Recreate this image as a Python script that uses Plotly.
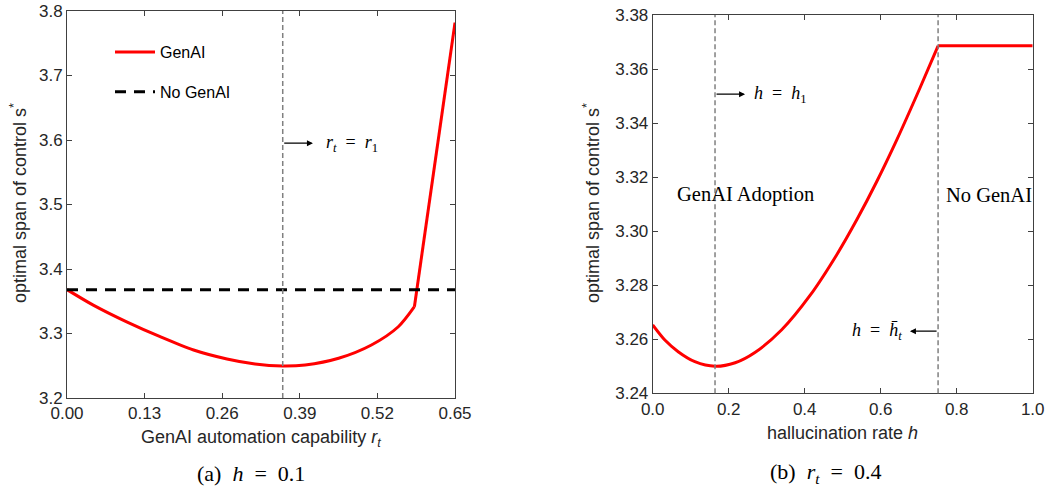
import plotly.graph_objects as go

# ---------------- data ----------------
# panel (a): h = 0.1  -- GenAI curve (smooth part up to the kink, then the steep linear part)
r_curve = [0.0, 0.044, 0.100, 0.156, 0.212, 0.268, 0.315, 0.361, 0.399, 0.455, 0.510, 0.555, 0.582]
s_curve_a = [3.368, 3.344, 3.318, 3.295, 3.2744, 3.2605, 3.2527, 3.2496, 3.2512, 3.2616, 3.2822, 3.3105, 3.3416]
r_steep = [0.582, 0.65]
s_steep = [3.3416, 3.782]
r_nogenai = [0.0, 0.65]
s_nogenai = [3.368, 3.368]
r1 = 0.3614

# panel (b): r_t = 0.4
h_curve = [0.0, 0.032, 0.067, 0.111, 0.164, 0.217, 0.269, 0.3395, 0.414, 0.484, 0.537, 0.589, 0.642, 0.703, 0.751]
s_curve_b = [3.2653, 3.2597, 3.2554, 3.2517, 3.2500, 3.2513, 3.2551, 3.2635, 3.2762, 3.2912, 3.3042, 3.3182, 3.3337, 3.3529, 3.3686]
h_flat = [0.751, 1.0]
s_flat = [3.3686, 3.3686]
h1 = 0.164
h_bar = 0.751

x_ticks_a = [0.00, 0.13, 0.26, 0.39, 0.52, 0.65]
y_ticks_a = [3.2, 3.3, 3.4, 3.5, 3.6, 3.7, 3.8]
x_ticks_b = [0.0, 0.2, 0.4, 0.6, 0.8, 1.0]
y_ticks_b = [3.24, 3.26, 3.28, 3.30, 3.32, 3.34, 3.36, 3.38]

# ---------------- figure ----------------
W, H = 1047, 493
AX = "#404040"
TXT = "#262626"
RED = "#ff0000"
SANS = "Liberation Sans, Arial, sans-serif"
SERIF = "Liberation Serif, Times New Roman, serif"

def px_x(p):
    return p / W

def px_y(p):
    return 1 - p / H

fig = go.Figure()

fig.add_trace(go.Scatter(x=r_curve, y=s_curve_a, mode="lines", name="GenAI",
                         line=dict(color=RED, width=3, shape="spline", smoothing=0.8),
                         legendgroup="g1", xaxis="x", yaxis="y"))
fig.add_trace(go.Scatter(x=r_steep, y=s_steep, mode="lines", name="GenAI",
                         line=dict(color=RED, width=3), legendgroup="g1", showlegend=False,
                         xaxis="x", yaxis="y"))
fig.add_trace(go.Scatter(x=r_nogenai, y=s_nogenai, mode="lines", name="No GenAI",
                         line=dict(color="#000000", width=3, dash="11px,8px"), legendgroup="g2",
                         xaxis="x", yaxis="y"))
fig.add_trace(go.Scatter(x=h_curve, y=s_curve_b, mode="lines", name="GenAI",
                         line=dict(color=RED, width=3, shape="spline", smoothing=0.8),
                         showlegend=False, xaxis="x2", yaxis="y2"))
fig.add_trace(go.Scatter(x=h_flat, y=s_flat, mode="lines", name="GenAI",
                         line=dict(color=RED, width=3), showlegend=False,
                         xaxis="x2", yaxis="y2"))

axis_common = dict(showline=True, linecolor=AX, linewidth=1, mirror="ticks",
                   ticks="inside", ticklen=5, tickcolor=AX, showgrid=False, zeroline=False,
                   automargin=False, tickfont=dict(family=SANS, size=17, color=TXT))

fig.update_layout(
    template="none",
    width=W, height=H,
    margin=dict(l=0, r=0, t=0, b=0),
    plot_bgcolor="white", paper_bgcolor="white",
    showlegend=True,
    legend=dict(x=px_x(110), y=px_y(35), xanchor="left", yanchor="top",
                font=dict(family=SANS, size=16, color="#000000"),
                bgcolor="rgba(0,0,0,0)", tracegroupgap=16, traceorder="grouped",
                itemwidth=40),
    xaxis=dict(domain=[px_x(67), px_x(455)], range=[0, 0.65], tickvals=x_ticks_a,
               ticktext=[f"{v:.2f}" for v in x_ticks_a], anchor="y", **axis_common),
    yaxis=dict(domain=[px_y(398), px_y(11)], range=[3.2, 3.8], tickvals=y_ticks_a,
               ticktext=[f"{v:.1f}" for v in y_ticks_a], anchor="x", **axis_common),
    xaxis2=dict(domain=[px_x(652.7), px_x(1032.7)], range=[0, 1], tickvals=x_ticks_b,
                ticktext=[f"{v:.1f}" for v in x_ticks_b], anchor="y2", **axis_common),
    yaxis2=dict(domain=[px_y(393.3), px_y(15)], range=[3.24, 3.38], tickvals=y_ticks_b,
                ticktext=[f"{v:.2f}" for v in y_ticks_b], anchor="x2", **axis_common),
)

# axis titles (placed as paper annotations)
title_font = dict(family=SANS, size=18, color=TXT)
fig.add_annotation(x=px_x(261), y=px_y(438), xref="paper", yref="paper", showarrow=False,
                   xanchor="center", yanchor="middle", font=title_font,
                   text="GenAI automation capability <i>r</i><sub><i>t</i></sub>")
fig.add_annotation(x=px_x(842.7), y=px_y(433), xref="paper", yref="paper", showarrow=False,
                   xanchor="center", yanchor="middle", font=title_font,
                   text="hallucination rate <i>h</i>")
fig.add_annotation(x=px_x(18), y=px_y(203), xref="paper", yref="paper", showarrow=False,
                   xanchor="center", yanchor="middle", textangle=-90, font=title_font,
                   text="optimal span of control s<sup>*</sup>")
fig.add_annotation(x=px_x(591), y=px_y(203), xref="paper", yref="paper", showarrow=False,
                   xanchor="center", yanchor="middle", textangle=-90, font=title_font,
                   text="optimal span of control s<sup>*</sup>")

# vertical dashed reference lines
vline = dict(color="#808080", width=1.5, dash="5px,3px")
fig.add_shape(type="line", xref="x", yref="y domain", x0=r1, x1=r1, y0=0, y1=1, line=vline)
fig.add_shape(type="line", xref="x2", yref="y2 domain", x0=h1, x1=h1, y0=0, y1=1, line=vline)
fig.add_shape(type="line", xref="x2", yref="y2 domain", x0=h_bar, x1=h_bar, y0=0, y1=1, line=vline)

math_font = dict(family=SERIF, size=18, color="#000")
EQ = "\u2002=\u2002"

# panel (a) arrow + label
fig.add_annotation(x=0.412, y=3.595, ax=r1, ay=3.595, xref="x", yref="y", axref="x", ayref="y",
                   showarrow=True, arrowhead=2, arrowsize=1, arrowwidth=1.2, arrowcolor="#000", text="")
fig.add_annotation(x=0.430, y=3.595, xref="x", yref="y", xanchor="left", yanchor="middle",
                   showarrow=False, font=math_font,
                   text=f"<i>r</i><sub><i>t</i></sub>{EQ}<i>r</i><sub>1</sub>")

# panel (b) arrows + labels
fig.add_annotation(x=0.243, y=3.3507, ax=h1, ay=3.3507, xref="x2", yref="y2", axref="x2", ayref="y2",
                   showarrow=True, arrowhead=2, arrowsize=1, arrowwidth=1.2, arrowcolor="#000", text="")
fig.add_annotation(x=0.260, y=3.3507, xref="x2", yref="y2", xanchor="left", yanchor="middle",
                   showarrow=False, font=math_font,
                   text=f"<i>h</i>{EQ}<i>h</i><sub>1</sub>")
fig.add_annotation(x=0.677, y=3.263, ax=h_bar, ay=3.263, xref="x2", yref="y2", axref="x2", ayref="y2",
                   showarrow=True, arrowhead=2, arrowsize=1, arrowwidth=1.2, arrowcolor="#000", text="")
fig.add_annotation(x=0.662, y=3.263, xref="x2", yref="y2", xanchor="right", yanchor="middle",
                   showarrow=False, font=math_font,
                   text=f"<i>h</i>{EQ}<i>h\u0304</i><sub><i>t</i></sub>")
fig.add_annotation(x=0.243, y=3.3134, xref="x2", yref="y2", xanchor="center", yanchor="middle",
                   showarrow=False, text="GenAI Adoption",
                   font=dict(family=SERIF, size=20.5, color="#000"))
fig.add_annotation(x=0.886, y=3.3134, xref="x2", yref="y2", xanchor="center", yanchor="middle",
                   showarrow=False, text="No GenAI",
                   font=dict(family=SERIF, size=20.5, color="#000"))

# captions
cap_font = dict(family=SERIF, size=22, color="#000")
fig.add_annotation(x=px_x(251), y=px_y(473), xref="paper", yref="paper", xanchor="center",
                   yanchor="middle", showarrow=False, font=cap_font,
                   text="(a)\u2002<i>h</i>\u2002=\u20020.1")
fig.add_annotation(x=px_x(825), y=px_y(473), xref="paper", yref="paper", xanchor="center",
                   yanchor="middle", showarrow=False, font=cap_font,
                   text="(b)\u2002<i>r</i><sub><i>t</i></sub>\u2002=\u20020.4")

fig.write_html("out.html",
               config={"displayModeBar": False},
               post_script="document.body.style.margin='0';document.body.style.padding='0';"
                           "document.body.style.overflow='hidden';")
